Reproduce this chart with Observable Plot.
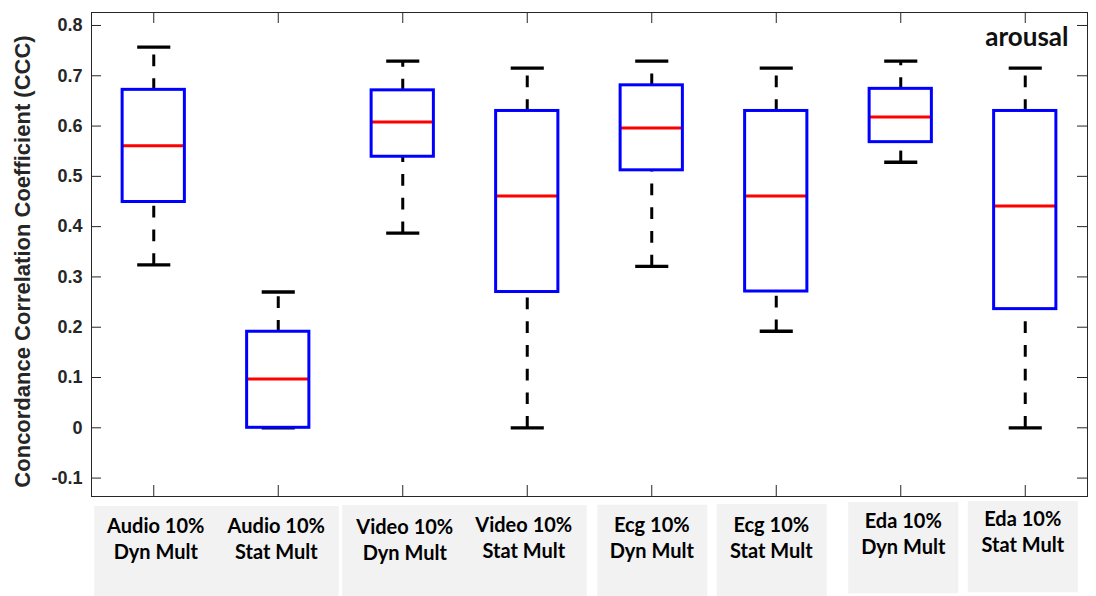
<!DOCTYPE html>
<html>
<head>
<meta charset="utf-8">
<script src="https://cdn.jsdelivr.net/npm/d3@7"></script>
<script src="https://cdn.jsdelivr.net/npm/@observablehq/plot@0.6"></script>
<style>
  html, body { margin: 0; padding: 0; background: #ffffff; }
  #chart svg { display: block; }
</style>
</head>
<body>
<div id="chart"></div>
<script>
// Box-plot summary of CCC per modality / fusion method (arousal)
const categories = [
  "Audio 10%\nDyn Mult", "Audio 10%\nStat Mult",
  "Video 10%\nDyn Mult", "Video 10%\nStat Mult",
  "Ecg 10%\nDyn Mult",   "Ecg 10%\nStat Mult",
  "Eda 10%\nDyn Mult",   "Eda 10%\nStat Mult"
];
const upperWhisker = [0.757, 0.270, 0.729, 0.715, 0.729, 0.715, 0.729, 0.715];
const q3           = [0.672, 0.191, 0.671, 0.630, 0.681, 0.630, 0.674, 0.630];
const median       = [0.561, 0.097, 0.608, 0.461, 0.596, 0.461, 0.618, 0.441];
const q1           = [0.449, 0.000, 0.539, 0.270, 0.512, 0.271, 0.568, 0.236];
const lowerWhisker = [0.324, 0.000, 0.387, 0.000, 0.321, 0.192, 0.528, 0.000];
const yTicks = [-0.1, 0, 0.1, 0.2, 0.3, 0.4, 0.5, 0.6, 0.7, 0.8];
const yLabel = "Concordance Correlation Coefficient (CCC)";
const condition = "arousal";

// label panels: which categories share a grey background
const panelGroups = [[0, 1], [2, 3], [4], [5], [6], [7]];

// layout (pixels)
const W = 1096, H = 596;
const margin = {top: 12, right: 9, bottom: 100, left: 91};
const plotW = W - margin.left - margin.right;
const plotH = H - margin.top - margin.bottom;
const boxHalf = 0.25, capHalf = 0.133;
// per-label nudges of the two-line category labels
const labelDx = [2, -2, 2, -3.5, 0, -5, 2.5, -2.5];
const labelBaseline = [558.3, 558.3, 559, 557.7, 557, 557, 553, 551.7];
// per-panel extents around the category positions
const panelPad = [[-59, 61, 506, 596], [-60, 60, 505, 596], [-54, 56, 504.7, 596],
                  [-59, 51, 504, 596], [-52, 58, 502, 593.3], [-57, 53, 501, 592.3]];

const rows = categories.map((name, i) => ({
  pos: i + 1, name,
  hi: upperWhisker[i], q3: q3[i], med: median[i], q1: q1[i], lo: lowerWhisker[i]
}));

const axisColor = "#262626";
const fmt = d => String(+d.toFixed(1));

const plot = Plot.plot({
  width: W,
  height: H,
  marginTop: margin.top,
  marginRight: margin.right,
  marginBottom: margin.bottom,
  marginLeft: margin.left,
  style: {fontFamily: "'Liberation Sans', Arial, sans-serif", background: "#ffffff", overflow: "visible"},
  x: {domain: [0.5, 8.5], axis: null},
  y: {domain: [-0.1366, 0.8258], axis: null},
  marks: [
    // whiskers (dashed), drawn upward from the lower end
    Plot.link(rows, {x1: "pos", x2: "pos", y1: "q3", y2: "hi",
      stroke: "#000000", strokeWidth: 3, strokeDasharray: "11.7,12"}),
    Plot.link(rows, {x1: "pos", x2: "pos", y1: "lo", y2: "q1",
      stroke: "#000000", strokeWidth: 3, strokeDasharray: "11.7,12"}),
    // whisker caps
    Plot.link(rows, {x1: d => d.pos - capHalf, x2: d => d.pos + capHalf, y1: "hi", y2: "hi",
      stroke: "#000000", strokeWidth: 3.3}),
    Plot.link(rows, {x1: d => d.pos - capHalf, x2: d => d.pos + capHalf, y1: "lo", y2: "lo",
      stroke: "#000000", strokeWidth: 3.3}),
    // medians
    Plot.link(rows, {x1: d => d.pos - boxHalf, x2: d => d.pos + boxHalf, y1: "med", y2: "med",
      stroke: "#ff0000", strokeWidth: 3}),
    // boxes
    Plot.rect(rows, {x1: d => d.pos - boxHalf, x2: d => d.pos + boxHalf, y1: "q1", y2: "q3",
      fill: "none", stroke: "#0000ff", strokeWidth: 3}),
    // frame and inward ticks
    Plot.frame({stroke: axisColor, strokeWidth: 1}),
    Plot.tickY(yTicks, {y: d => d, stroke: axisColor, strokeWidth: 1, insetRight: plotW - 10}),
    Plot.tickY(yTicks, {y: d => d, stroke: axisColor, strokeWidth: 1, insetLeft: plotW - 10}),
    Plot.tickX(rows, {x: "pos", stroke: axisColor, strokeWidth: 1, insetBottom: plotH - 11}),
    Plot.tickX(rows, {x: "pos", stroke: axisColor, strokeWidth: 1, insetTop: plotH - 11}),
    // y tick labels
    Plot.text(yTicks, {y: d => d, text: fmt, frameAnchor: "left", dx: -9, textAnchor: "end",
      fill: axisColor, fontSize: 18, fontWeight: "bold"}),
    // y axis title
    Plot.text([yLabel], {frameAnchor: "left", rotate: -90, dx: -69, dy: 7, textAnchor: "middle",
      fill: axisColor, fontSize: 22, fontWeight: "bold"}),
    // condition tag
    Plot.text([condition], {frameAnchor: "top-right", dx: -19, dy: 33.7, textAnchor: "end",
      lineAnchor: "bottom", fill: "#111111", fontSize: 26, fontWeight: "bold",
      fontFamily: "Lato, 'Open Sans', sans-serif"}),
    // category labels
    ...rows.map((r, i) => Plot.text([r], {x: "pos", text: "name", frameAnchor: "bottom",
      dx: labelDx[i], dy: labelBaseline[i] - (H - margin.bottom), lineAnchor: "bottom",
      lineHeight: 1.3, textAnchor: "middle", fill: "#000000", fontSize: 20, fontWeight: "bold",
      fontFamily: "Lato, 'Open Sans', sans-serif"}))
  ]
});

// grey label panels behind the category labels
const sx = plot.scale("x");
const panels = panelGroups.map((g, k) => ({
  x0: sx.apply(g[0] + 1) + panelPad[k][0],
  x1: sx.apply(g[g.length - 1] + 1) + panelPad[k][1],
  y0: panelPad[k][2],
  y1: panelPad[k][3]
}));
d3.select(plot).insert("g", ":first-child")
  .selectAll("rect").data(panels).join("rect")
  .attr("x", d => d.x0).attr("y", d => d.y0)
  .attr("width", d => d.x1 - d.x0).attr("height", d => d.y1 - d.y0)
  .attr("fill", "#f2f2f2");

document.getElementById("chart").appendChild(plot);
</script>
</body>
</html>
